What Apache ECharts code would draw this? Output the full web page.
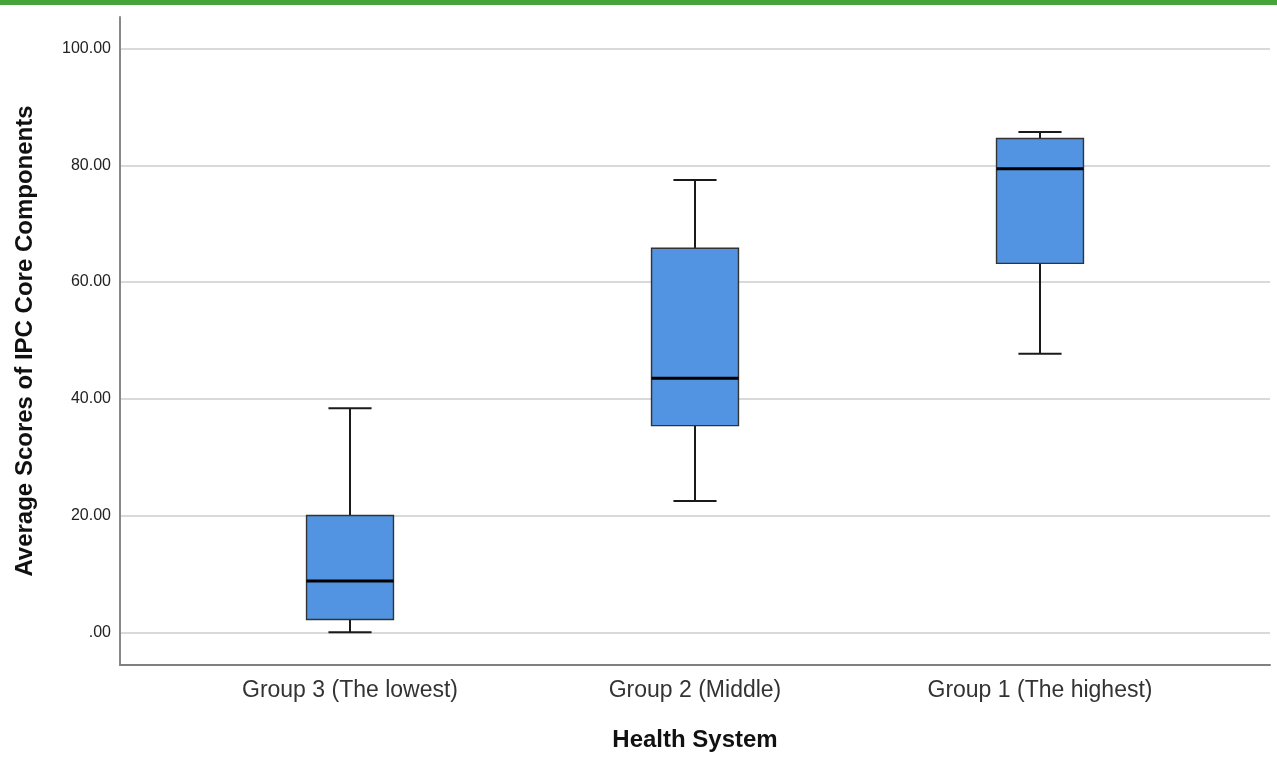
<!DOCTYPE html>
<html>
<head>
<meta charset="utf-8">
<script src="https://cdn.jsdelivr.net/npm/echarts@6/dist/echarts.min.js"></script>
<style>
  html, body { margin: 0; padding: 0; background: #fff; }
  #chart { width: 1277px; height: 766px; }
  #topbar { position: absolute; left: 0; top: 0; width: 1277px; height: 5px; background: #45a43a; z-index: 2; }
</style>
</head>
<body>
<div id="topbar"></div>
<div id="chart"></div>
<script>
// ---- data ----
const categories = ['Group 3 (The lowest)', 'Group 2 (Middle)', 'Group 1 (The highest)'];
const whiskerLow  = [0.0, 22.5, 47.7];
const q1          = [2.2, 35.4, 63.2];
const median      = [8.8, 43.5, 79.4];
const q3          = [20.0, 65.8, 84.6];
const whiskerHigh = [38.4, 77.5, 85.7];
const yTicks = [0, 20, 40, 60, 80, 100];
const categoryPositions = [0, 1, 2];

const rows = categories.map((c, i) => [categoryPositions[i], whiskerLow[i], q1[i], median[i], q3[i], whiskerHigh[i]]);

const chart = echarts.init(document.getElementById('chart'));
const FONT = '"Liberation Sans", Arial, sans-serif';

chart.setOption({
  animation: false,
  backgroundColor: '#fff',
  grid: { left: 120, right: 7, top: 17, bottom: 101 },
  xAxis: {
    type: 'value',
    min: -0.6667,
    max: 2.6667,
    name: 'Health System',
    nameLocation: 'middle',
    nameGap: 63,
    nameTextStyle: { fontFamily: FONT, fontWeight: 'bold', fontSize: 24, color: '#111', verticalAlign: 'top' },
    axisLine: { show: true, onZero: false, lineStyle: { color: '#808080', width: 2 } },
    axisTick: { show: false },
    splitLine: { show: false },
    axisLabel: {
      customValues: categoryPositions,
      formatter: v => categories[Math.round(v)],
      fontFamily: FONT, fontSize: 23, color: '#333', margin: 14
    }
  },
  yAxis: {
    type: 'value',
    min: -5.6,
    max: 105.4,
    name: 'Average Scores of IPC Core Components',
    nameLocation: 'middle',
    nameRotate: 90,
    nameGap: 83,
    nameTextStyle: { fontFamily: FONT, fontWeight: 'bold', fontSize: 24, color: '#111' },
    axisLine: { show: true, onZero: false, lineStyle: { color: '#888', width: 2 } },
    axisTick: { show: false, customValues: yTicks },
    splitLine: { show: true, lineStyle: { color: '#cccccc', width: 1.5 } },
    axisLabel: {
      customValues: yTicks,
      formatter: v => (v === 0 ? '.00' : v.toFixed(2)),
      fontFamily: FONT, fontSize: 16, color: '#222', margin: 9,
      padding: [6, 0, 0, 0]
    }
  },
  series: [{
    type: 'custom',
    data: rows,
    encode: { x: 0, y: [1, 2, 3, 4, 5] },
    clip: false,
    renderItem: function (params, api) {
      const x = api.value(0);
      const unit = api.size([1, 0])[0];
      const bw = unit * 0.252;
      const cw = unit * 0.125;
      const pLow = api.coord([x, api.value(1)]);
      const pQ1 = api.coord([x, api.value(2)]);
      const pMed = api.coord([x, api.value(3)]);
      const pQ3 = api.coord([x, api.value(4)]);
      const pHigh = api.coord([x, api.value(5)]);
      const cx = pMed[0];
      const lineStyle = { stroke: '#1a1a1a', lineWidth: 2 };
      return {
        type: 'group',
        children: [
          { type: 'line', shape: { x1: cx, y1: pQ3[1], x2: cx, y2: pHigh[1] }, style: lineStyle },
          { type: 'line', shape: { x1: cx, y1: pLow[1], x2: cx, y2: pQ1[1] }, style: lineStyle },
          { type: 'line', shape: { x1: cx - cw / 2, y1: pHigh[1], x2: cx + cw / 2, y2: pHigh[1] }, style: lineStyle },
          { type: 'line', shape: { x1: cx - cw / 2, y1: pLow[1], x2: cx + cw / 2, y2: pLow[1] }, style: lineStyle },
          { type: 'rect', shape: { x: cx - bw / 2, y: pQ3[1], width: bw, height: pQ1[1] - pQ3[1] },
            style: { fill: '#5294e2', stroke: '#333', lineWidth: 1.4 } },
          { type: 'line', shape: { x1: cx - bw / 2, y1: pMed[1], x2: cx + bw / 2, y2: pMed[1] },
            style: { stroke: '#000', lineWidth: 3 } }
        ]
      };
    }
  }]
});
</script>
</body>
</html>
